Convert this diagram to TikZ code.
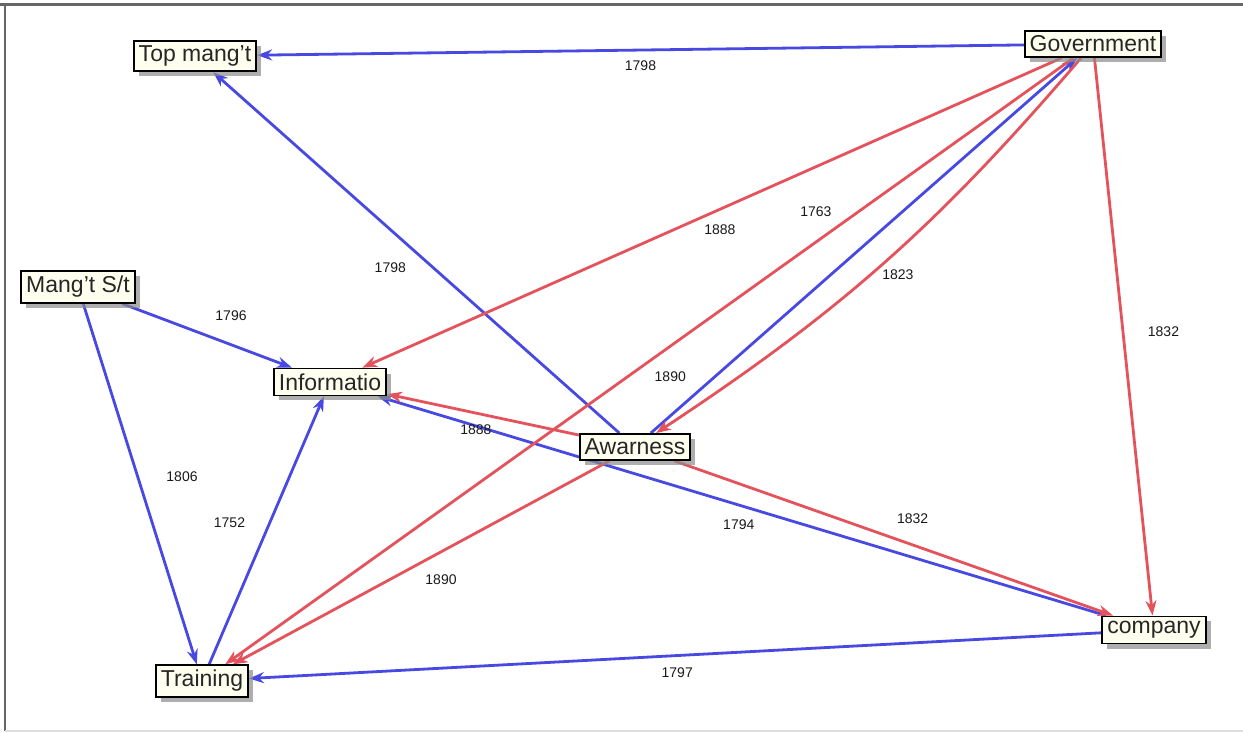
\documentclass[tikz,border=0pt]{standalone}
\usepackage{fontspec}
\setsansfont{Liberation Sans}
\usepackage{tikz}
\usetikzlibrary{arrows.meta,shadows,backgrounds}
\definecolor{cream}{RGB}{255,255,240}
\definecolor{tieblue}{RGB}{72,72,226}
\definecolor{hitred}{RGB}{228,82,92}
\tikzset{
  item/.style = {draw=black, line width=0.9pt, fill=cream, text=black!85,
    font=\sffamily\fontsize{11.5}{13}\selectfont, inner sep=2.5pt,
    drop shadow={shadow xshift=2.5pt, shadow yshift=-2.5pt, fill=black!45, opacity=0.7}},
  year/.style = {font=\sffamily\fontsize{7}{8}\selectfont, text=black!90, inner sep=1pt},
  tie/.style = {->, line width=1.4pt, draw=tieblue},
  hit/.style = {->, line width=1.4pt, draw=hitred}
}

\begin{document}
\begin{tikzpicture}[x=0.5pt, y=-0.5pt, >={Stealth[length=7.5pt,width=5.5pt]}]

  \useasboundingbox (0,0) rectangle (1243,733);
  \draw[black!60, line width=1.5pt] (0,5) -- (1243,5);
  \draw[black!60, line width=1pt] (5,5) -- (5,731);
  \draw[gray!25, line width=1pt] (5,731) -- (1243,731);

  % actors
  \node (top)    at (195,56)   [item] {Top mang't};
  \node (gov)    at (1093,44)  [item] {Government};
  \node (mangst) at (78,287)   [item] {Mang't S/t};
  \node (info)   at (330,382)  [item] {Informatio};
  \node (awar)   at (635,447)  [item] {Awarness};
  \node (comp)   at (1154,630) [item] {company};
  \node (train)  at (202,681)  [item] {Training};

  \begin{scope}[on background layer]
  % blue ties
  \draw[tie] (gov) -- node[year, shift={(0,16)}] {1798} (top);
  \draw[tie] (awar) -- node[year, shift={(-26,15)}] {1798} (top);
  \draw[tie] (mangst) -- node[year, shift={(24,-20)}] {1796} (info);
  \draw[tie] (mangst) -- node[year, shift={(42,-7)}] {1806} (train);
  \draw[tie] (train) -- node[year, shift={(-37,-8)}] {1752} (info);
  \draw[tie] (comp) -- node[year, shift={(-3,19)}] {1794} (info);
  \draw[tie] (comp) -- node[year, shift={(2,17)}] {1797} (train);
  \draw[tie] (awar) -- node[year, shift={(-48,-34)}] {1763} (gov);

  % red ties
  \draw[hit] (gov) -- node[year, shift={(8,17)}] {1888} (info);
  \draw[hit] (gov) -- node[year, shift={(21,15)}] {1890} (train);
  \draw[hit] (gov) to[bend left=8] node[year, shift={(14,12)}] {1823} (awar);
  \draw[hit] (gov) -- node[year, shift={(40,-5)}] {1832} (comp);
  \draw[hit] (awar) -- node[year, shift={(-7,15)}] {1888} (info);
  \draw[hit] (awar) -- node[year, shift={(19,-20)}] {1832} (comp);
  \draw[hit] (awar) -- node[year, shift={(20,17)}] {1890} (train);
  \end{scope}
\end{tikzpicture}
\end{document}
